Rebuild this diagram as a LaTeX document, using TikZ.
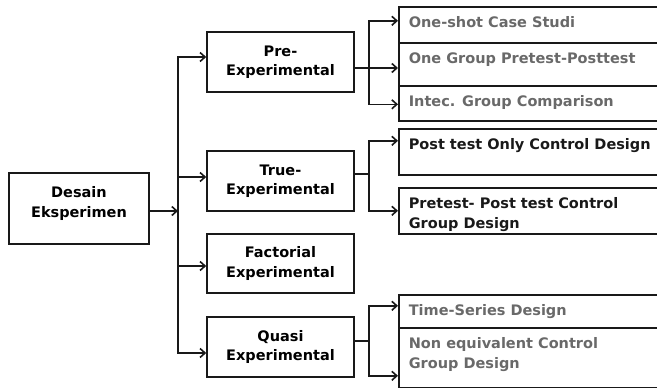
\documentclass[tikz,border=0pt]{standalone}
\usepackage{fontspec}
\setmainfont{DejaVu Sans}
\usetikzlibrary{arrows.meta}
\definecolor{ink}{RGB}{25,25,25}
\definecolor{greytext}{RGB}{105,105,105}

\begin{document}
\begin{tikzpicture}[x=1pt,y=-1pt,line width=1.6pt,draw=ink,
    >={Straight Barb[length=5pt,width=9pt]},
    box/.style={draw,align=center,minimum width=147,minimum height=60,
        font=\fontsize{14.5}{19.5}\selectfont\bfseries},
    leaf/.style={draw,anchor=north west,minimum width=300},
    leaftext/.style={anchor=north west,inner sep=0,align=left,
        font=\fontsize{14.5}{19.5}\selectfont\bfseries}]
    \clip (0,0) rectangle (657,388);
    % left column
    \node[box,minimum width=140,minimum height=71] (desain) at (79,208.5) {Desain\\Eksperimen\\[-6pt]\mbox{}};
    \node[box] (pre) at (280.5,62) {Pre-\\Experimental};
    \node[box] (true) at (280.5,181) {True-\\Experimental};
    \node[box,minimum height=59] (fact) at (280.5,263.5) {Factorial\\Experimental};
    \node[box] (quasi) at (280.5,347) {Quasi\\Experimental};
    % right column, boxes run off the page
    \node[leaf,minimum height=36] (one) at (398,6) {};
    \node[leaf,minimum height=43] (group) at (398,42) {};
    \node[leaf,minimum height=35] (intec) at (398,85) {};
    \node[leaf,minimum height=46] (post) at (398,128) {};
    \node[leaf,minimum height=46] (prepost) at (398,187) {};
    \node[leaf,minimum height=33] (time) at (398,294) {};
    \node[leaf,minimum height=60] (noneq) at (398,327) {};
    \node[leaftext,greytext] (oneT) at ([shift={(10,10)}]one.north west) {One-shot Case Studi};
    \node[leaftext,greytext] (groupT) at ([shift={(10,10)}]group.north west) {One Group Pretest-Posttest};
    \node[leaftext,greytext] (intecT) at ([shift={(10,10)}]intec.north west) {Intec. Group Comparison};
    \node[leaftext,ink] (postT) at ([shift={(10,10)}]post.north west) {Post test Only Control Design};
    \node[leaftext,ink] (prepostT) at ([shift={(10,10)}]prepost.north west) {Pretest- Post test Control\\Group Design};
    \node[leaftext,greytext] (timeT) at ([shift={(10,10)}]time.north west) {Time-Series Design};
    \node[leaftext,greytext] (noneqT) at ([shift={(10,10)}]noneq.north west) {Non equivalent Control\\Group Design};
    % main trunk
    \coordinate (trunk) at (178,211);
    \draw[->] (desain.east |- trunk) -- (trunk);
    \draw[->] (trunk) |- ([shift={(0,-5)}]pre.west);
    \draw[->] (trunk) |- ([shift={(0,-4)}]true.west);
    \draw[->] (trunk) |- ([shift={(0,2.5)}]fact.west);
    \draw[->] (trunk) |- ([shift={(0,6)}]quasi.west);
    % branches
    \coordinate (preJ) at (369,68);
    \coordinate (trueJ) at (369,174);
    \coordinate (quasiJ) at (369,341);
    \draw[->] (pre.east |- preJ) -- (group.west |- preJ);
    \draw[->] (preJ) |- ([shift={(0,-4)}]one.west);
    \draw[->] (preJ) |- ([shift={(0,1)}]intec.west);
    \draw (true.east |- trueJ) -- (trueJ);
    \draw[->] (trueJ) |- ([shift={(0,-11)}]post.west);
    \draw[->] (trueJ) |- (prepost.west);
    \draw (quasi.east |- quasiJ) -- (quasiJ);
    \draw[->] (quasiJ) |- ([shift={(0,-5.5)}]time.west);
    \draw[->] (quasiJ) |- ([shift={(0,18)}]noneq.west);
\end{tikzpicture}
\end{document}
